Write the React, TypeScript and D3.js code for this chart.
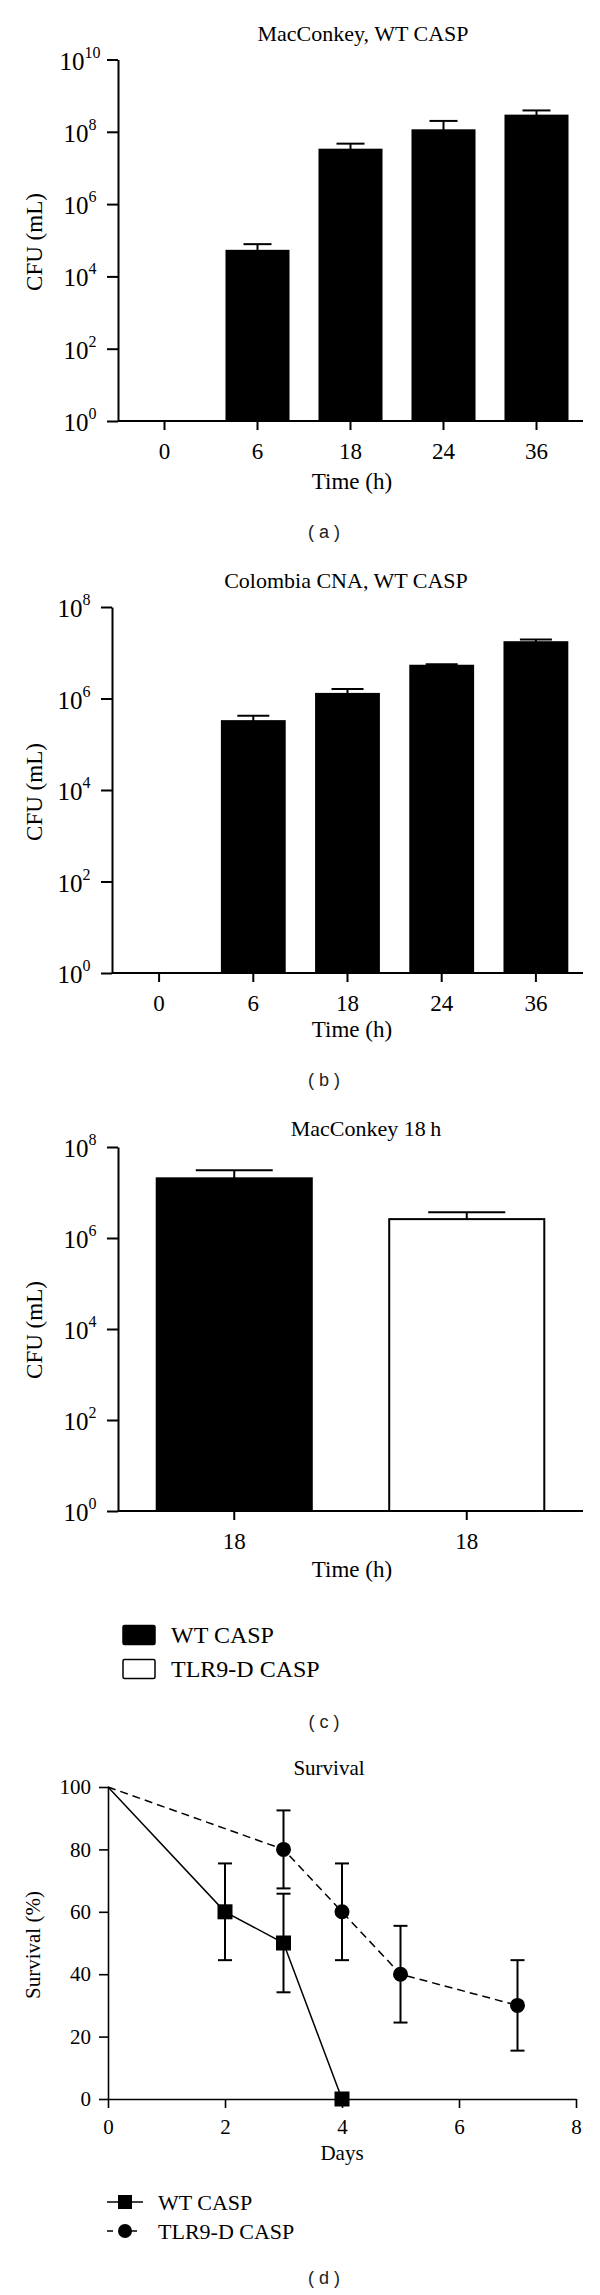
import React, { useEffect, useRef } from 'react';
import * as d3 from 'd3';

// (a) MacConkey, WT CASP
const timeLabels = ['0', '6', '18', '24', '36'];
const macConkeyMean = [0, 5.1e4, 3.2e7, 1.1e8, 2.8e8];
const macConkeyErr = [0, 2.7e4, 1.5e7, 0.9e8, 1.1e8];

// (b) Colombia CNA, WT CASP
const colombiaMean = [0, 3.2e5, 1.26e6, 5.2e6, 1.7e7];
const colombiaErr = [0, 1.0e5, 0.35e6, 0.4e6, 0.25e7];

// (c) MacConkey 18 h
const groups = ['WT CASP', 'TLR9-D CASP'];
const groupTime = ['18', '18'];
const groupMean = [2.05e7, 2.6e6];
const groupErr = [1.05e7, 1.1e6];
const groupFill = ['#000', '#fff'];

// (d) Survival
const wtDays = [0, 2, 3, 4];
const wtSurvival = [100, 60, 50, 0];
const wtSem = [0, 15.5, 15.8, 0];
const tlrDays = [0, 3, 4, 5, 7];
const tlrSurvival = [100, 80, 60, 40, 30];
const tlrSem = [0, 12.5, 15.5, 15.5, 14.5];
const dayTicks = [0, 2, 4, 6, 8];
const survivalTicks = [0, 20, 40, 60, 80, 100];

const serif = "'Liberation Serif', 'Times New Roman', serif";
const sans = "'Liberation Sans', Arial, sans-serif";

function text(svg, x, y, str, size, opts: any = {}) {
  const t = svg.append('text')
    .attr('x', x)
    .attr('y', y)
    .attr('font-family', opts.family || serif)
    .attr('font-size', size)
    .attr('text-anchor', opts.anchor || 'middle')
    .attr('fill', opts.fill || '#000')
    .text(str);
  if (opts.rotate) t.attr('transform', `rotate(-90, ${x}, ${y})`);
  return t;
}

function barPanel(svg, cfg) {
  const { labels, means, errs, fills, axisX, axisEnd, yTop, yBottom, maxExp, capW } = cfg;
  const idx = labels.map((_, i) => i);

  const x = d3.scaleBand().domain(idx).range([axisX, axisEnd]).paddingInner(0.333).paddingOuter(0.1665);
  const y = d3.scaleLog().domain([1, 10 ** maxExp]).range([yBottom, yTop]);
  const exps = d3.range(0, maxExp + 1, 2);

  // bars + upper error whiskers
  idx.filter(i => means[i] > 0).forEach(i => {
    svg.append('rect')
      .attr('x', x(i))
      .attr('y', y(means[i]))
      .attr('width', x.bandwidth())
      .attr('height', y(1) - y(means[i]))
      .attr('fill', fills[i])
      .attr('stroke', '#000')
      .attr('stroke-width', 2);
    const cx = x(i) + x.bandwidth() / 2;
    const top = y(means[i] + errs[i]);
    svg.append('line').attr('x1', cx).attr('x2', cx).attr('y1', y(means[i])).attr('y2', top)
      .attr('stroke', '#000').attr('stroke-width', 2);
    svg.append('line').attr('x1', cx - capW / 2).attr('x2', cx + capW / 2).attr('y1', top).attr('y2', top)
      .attr('stroke', '#000').attr('stroke-width', 2);
  });

  // y axis
  const gy = svg.append('g')
    .attr('transform', `translate(${axisX},0)`)
    .call(d3.axisLeft(y).tickValues(exps.map(e => 10 ** e)).tickSize(11).tickSizeOuter(0).tickFormat(() => ''));
  gy.selectAll('path, line').attr('stroke', '#000').attr('stroke-width', 2);

  exps.forEach(e => {
    const t = svg.append('text')
      .attr('x', axisX - 38)
      .attr('y', y(10 ** e) + 10)
      .attr('text-anchor', 'middle')
      .attr('font-family', serif)
      .attr('font-size', 25)
      .attr('fill', '#000');
    t.append('tspan').text('10');
    t.append('tspan').attr('dy', -12).attr('font-size', 16).text(String(e));
  });

  // x axis
  const gx = svg.append('g')
    .attr('transform', `translate(0,${yBottom})`)
    .call(d3.axisBottom(x).tickSize(9).tickSizeOuter(0).tickPadding(13).tickFormat(i => labels[i]));
  gx.selectAll('path, line').attr('stroke', '#000').attr('stroke-width', 2);
  gx.selectAll('text').attr('font-family', serif).attr('font-size', 23).attr('fill', '#000');
  gx.select('.domain').attr('d', `M${axisX},0H${axisEnd}`);

  text(svg, cfg.titleX, cfg.titleY, cfg.title, 22);
  text(svg, 352, cfg.timeY, 'Time (h)', 23);
  text(svg, 42, cfg.cfuY, 'CFU (mL)', 23, { rotate: true });
}

export default function App() {
  const svgRef = useRef(null);

  useEffect(() => {
    const svg = d3.select(svgRef.current);
    svg.selectAll('*').remove();

    barPanel(svg, {
      labels: timeLabels, means: macConkeyMean, errs: macConkeyErr, fills: timeLabels.map(() => '#000'),
      axisX: 118, axisEnd: 583, yTop: 59.5, yBottom: 421, maxExp: 10, capW: 28,
      title: 'MacConkey, WT CASP', titleX: 363, titleY: 41, timeY: 489, cfuY: 242,
    });
    text(svg, 324, 538, '( a )', 18, { family: sans, fill: '#222' });

    barPanel(svg, {
      labels: timeLabels, means: colombiaMean, errs: colombiaErr, fills: timeLabels.map(() => '#000'),
      axisX: 112, axisEnd: 583, yTop: 607, yBottom: 973, maxExp: 8, capW: 32,
      title: 'Colombia CNA, WT CASP', titleX: 346, titleY: 588, timeY: 1037, cfuY: 792,
    });
    text(svg, 324, 1086, '( b )', 18, { family: sans, fill: '#222' });

    barPanel(svg, {
      labels: groupTime, means: groupMean, errs: groupErr, fills: groupFill,
      axisX: 118, axisEnd: 583, yTop: 1147, yBottom: 1511, maxExp: 8, capW: 77,
      title: 'MacConkey 18\u2009h', titleX: 366, titleY: 1136, timeY: 1577, cfuY: 1330,
    });
    groups.forEach((g, i) => {
      const cy = 1635 + i * 34;
      svg.append('rect').attr('x', 123).attr('y', cy - 9.5).attr('width', 32).attr('height', 19).attr('rx', 1.5)
        .attr('fill', groupFill[i]).attr('stroke', '#000').attr('stroke-width', 1.5);
      text(svg, 171, cy + 8, g, 24, { anchor: 'start' });
    });
    text(svg, 324, 1728, '( c )', 18, { family: sans, fill: '#222' });

    // (d) Survival
    const x = d3.scaleLinear().domain([0, 8]).range([108, 576]);
    const y = d3.scaleLinear().domain([0, 100]).range([2099, 1787]);

    const gy = svg.append('g').attr('transform', 'translate(108,0)')
      .call(d3.axisLeft(y).tickValues(survivalTicks).tickSize(9).tickSizeOuter(0).tickPadding(8));
    const gx = svg.append('g').attr('transform', 'translate(0,2099)')
      .call(d3.axisBottom(x).tickValues(dayTicks).tickSize(9).tickSizeOuter(0).tickPadding(11));
    [gx, gy].forEach(g => {
      g.selectAll('path, line').attr('stroke', '#000').attr('stroke-width', 1.6);
      g.selectAll('text').attr('font-family', serif).attr('font-size', 21).attr('fill', '#000');
    });

    const series = [
      { days: wtDays, vals: wtSurvival, sem: wtSem, dash: null, shape: 'square' },
      { days: tlrDays, vals: tlrSurvival, sem: tlrSem, dash: '8,5', shape: 'circle' },
    ];
    series.forEach(s => {
      const pts = s.days.map((d, i) => [d, s.vals[i], s.sem[i]]);
      const line = d3.line().x(d => x(d[0])).y(d => y(d[1]));
      svg.append('path').datum(pts).attr('d', line).attr('fill', 'none')
        .attr('stroke', '#000').attr('stroke-width', 1.5).attr('stroke-dasharray', s.dash);
      pts.filter(p => p[2] > 0).forEach(p => {
        const cx = x(p[0]);
        const lo = y(p[1] - p[2]);
        const hi = y(p[1] + p[2]);
        svg.append('line').attr('x1', cx).attr('x2', cx).attr('y1', lo).attr('y2', hi).attr('stroke', '#000').attr('stroke-width', 2);
        [lo, hi].forEach(v => svg.append('line').attr('x1', cx - 7).attr('x2', cx + 7).attr('y1', v).attr('y2', v)
          .attr('stroke', '#000').attr('stroke-width', 2));
      });
      pts.filter(p => p[0] > 0).forEach(p => {
        if (s.shape === 'square') {
          svg.append('rect').attr('x', x(p[0]) - 7.5).attr('y', y(p[1]) - 7.5).attr('width', 15).attr('height', 15).attr('fill', '#000');
        } else {
          svg.append('circle').attr('cx', x(p[0])).attr('cy', y(p[1])).attr('r', 7.5).attr('fill', '#000');
        }
      });
    });

    text(svg, 329, 1775, 'Survival', 21);
    text(svg, 342, 2160, 'Days', 21);
    text(svg, 40, 1945, 'Survival (%)', 21, { rotate: true });

    // legend (d)
    series.forEach((s, i) => {
      const cy = 2202 + i * 29;
      svg.append('line').attr('x1', 107).attr('x2', 143).attr('y1', cy).attr('y2', cy)
        .attr('stroke', '#000').attr('stroke-width', 1.5).attr('stroke-dasharray', s.dash ? '6,6' : null);
      if (s.shape === 'square') {
        svg.append('rect').attr('x', 118).attr('y', cy - 7).attr('width', 14).attr('height', 14).attr('fill', '#000');
      } else {
        svg.append('circle').attr('cx', 125).attr('cy', cy).attr('r', 7).attr('fill', '#000');
      }
      text(svg, 158, cy + 7.5, groups[i], 22, { anchor: 'start' });
    });
    text(svg, 324, 2284, '( d )', 18, { family: sans, fill: '#222' });
  }, []);

  return (
    <svg ref={svgRef} width={600} height={2295}
      style={{ position: 'absolute', left: 0, top: 0, background: '#fff' }} />
  );
}
